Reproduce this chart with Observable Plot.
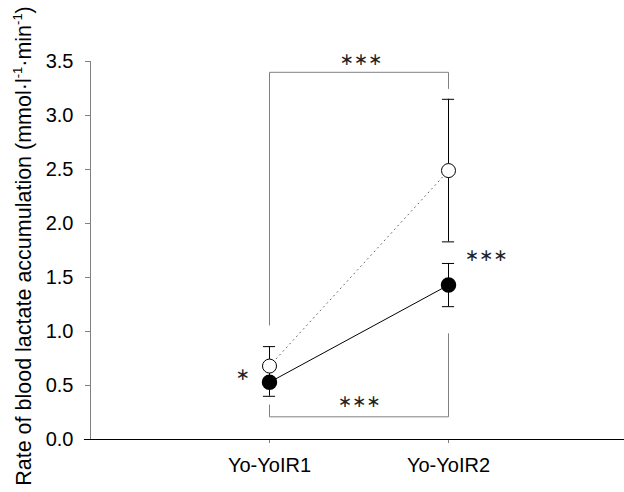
<!DOCTYPE html>
<html>
<head>
<meta charset="utf-8">
<script src="https://cdn.jsdelivr.net/npm/d3@7"></script>
<script src="https://cdn.jsdelivr.net/npm/@observablehq/plot@0.6"></script>
<style>
  html, body { margin: 0; padding: 0; background: #fff; }
  #chart svg { display: block; }
</style>
</head>
<body>
<div id="chart"></div>
<script>
// ---- data ----
const groups = ["Yo-YoIR1", "Yo-YoIR2"];
const groupX = [1, 2];
const openMean = [0.68, 2.49];
const openErr = [0.18, 0.66];
const filledMean = [0.53, 1.43];
const filledErr = [0.13, 0.20];
const yTicks = [0, 0.5, 1.0, 1.5, 2.0, 2.5, 3.0, 3.5];

// significance brackets (polyline points)
const bracketX = [1, 1, 2, 2];
const topBracketY = [1.06, 3.40, 3.40, 3.25];
const bottomBracketY = [0.32, 0.21, 0.21, 0.98];

// significance stars
const starLabels = ["\u2217\u2217\u2217", "\u2217\u2217\u2217", "\u2217\u2217\u2217", "\u2217"];
const starX = [1.51, 1.50, 2.21, 0.85];
const starY = [3.50, 0.33, 1.685, 0.583];

const idx = [0, 1];
const capHalf = 0.034;
const caps = [];
idx.forEach(i => {
  caps.push({x: groupX[i], y: filledMean[i] - filledErr[i]});
  caps.push({x: groupX[i], y: filledMean[i] + filledErr[i]});
  caps.push({x: groupX[i], y: openMean[i] - openErr[i]});
  caps.push({x: groupX[i], y: openMean[i] + openErr[i]});
});

const FONT = "'Liberation Sans', Arial, Helvetica, sans-serif";

const chart = Plot.plot({
  width: 624,
  height: 492,
  marginLeft: 90,
  marginRight: 0,
  marginTop: 61,
  marginBottom: 53,
  style: {fontFamily: FONT, background: "white", color: "black", overflow: "visible"},
  x: {domain: [0, 3], range: [90, 627]},
  y: {domain: [0, 3.5], range: [439, 61]},
  marks: [
    Plot.axisY(yTicks, {tickSize: 5, tickPadding: 12, fontSize: 20, stroke: "#808080", tickFormat: d3.format(".1f"), label: null}),
    Plot.axisX(groupX, {tickSize: 4, tickPadding: 14, fontSize: 20, stroke: "#808080", tickFormat: d => groups[groupX.indexOf(d)], label: null}),
    Plot.ruleX([0], {y1: 0, y2: 3.5, stroke: "#808080"}),
    Plot.ruleY([0], {x1: -capHalf, x2: 3, stroke: "black"}),
    // brackets
    Plot.line(topBracketY, {x: bracketX, y: topBracketY, stroke: "#808080", strokeWidth: 1}),
    Plot.line(bottomBracketY, {x: bracketX, y: bottomBracketY, stroke: "#808080", strokeWidth: 1}),
    // error bars
    Plot.ruleX(idx, {x: i => groupX[i], y1: i => filledMean[i] - filledErr[i], y2: i => filledMean[i] + filledErr[i], stroke: "black"}),
    Plot.ruleX(idx, {x: i => groupX[i], y1: i => openMean[i] - openErr[i], y2: i => openMean[i] + openErr[i], stroke: "black"}),
    Plot.ruleY(caps, {y: "y", x1: d => d.x - capHalf, x2: d => d.x + capHalf, stroke: "black"}),
    // connecting lines
    Plot.line(idx, {x: i => groupX[i], y: i => openMean[i], stroke: "#666", strokeWidth: 1, strokeDasharray: "1,4"}),
    Plot.line(idx, {x: i => groupX[i], y: i => filledMean[i], stroke: "black", strokeWidth: 1}),
    // points
    Plot.dot(idx, {x: i => groupX[i], y: i => openMean[i], r: 7, fill: "white", stroke: "black", strokeWidth: 1}),
    Plot.dot(idx, {x: i => groupX[i], y: i => filledMean[i], r: 7, fill: "black", stroke: "black"}),
    // stars
    Plot.text(starLabels, {x: starX, y: starY, text: d => d, fontSize: 17, fontFamily: "'DejaVu Sans', sans-serif", dy: -2, fill: "#222"})
  ]
});

// y-axis title with superscripts
const svg = d3.select(chart);
const title = svg.append("text")
  .attr("transform", "translate(31,246) rotate(-90)")
  .attr("text-anchor", "middle")
  .attr("fill", "black")
  .style("font-family", FONT)
  .style("font-size", "21.5px");
title.append("tspan").text("Rate of blood lactate accumulation (mmol\u00B7l");
title.append("tspan").attr("dy", -9).style("font-size", "13px").text("-1");
title.append("tspan").attr("dy", 9).text("\u00B7min");
title.append("tspan").attr("dy", -9).style("font-size", "13px").text("-1");
title.append("tspan").attr("dy", 9).text(")");

document.getElementById("chart").appendChild(chart);
</script>
</body>
</html>
